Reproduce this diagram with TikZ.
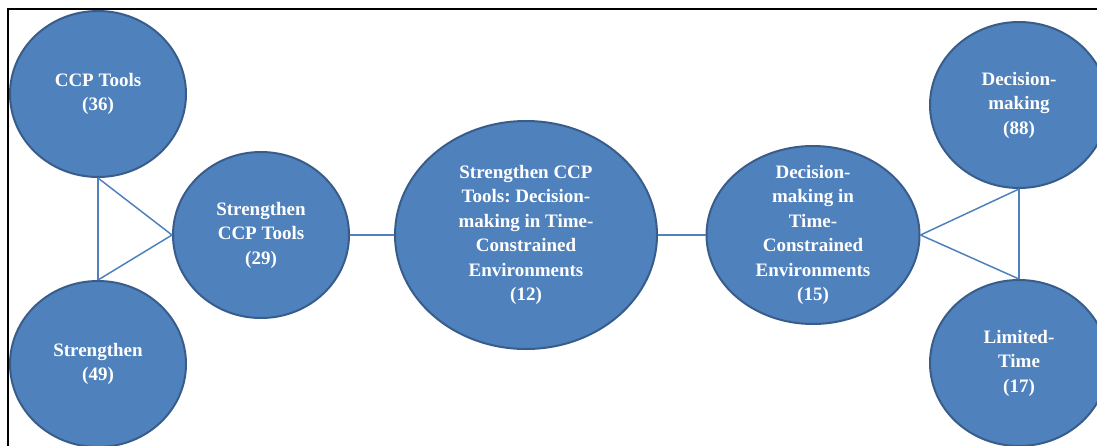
\documentclass[tikz,border=0pt]{standalone}
\usepackage{fontspec}
\setmainfont{Liberation Serif}
\usetikzlibrary{shapes.geometric}
\definecolor{nodeblue}{HTML}{4F81BD}
\definecolor{edgeblue}{HTML}{385D8A}
\frenchspacing
\tikzset{
	topic/.style={ellipse, draw=edgeblue, line width=2pt, fill=nodeblue, text=white,
		font=\bfseries\fontsize{19}{24.5}\selectfont, align=center, inner sep=0pt},
	link/.style={draw=nodeblue, line width=1.5pt}
}

\begin{document}
\begin{tikzpicture}[x=1pt,y=-1pt]
			%%%%% START %%%%%
			\useasboundingbox (0, 0) rectangle (1097, 445);
			\clip (0, 0) rectangle (1097, 445);
			
			\draw[line width=2pt] (8, 446) -- (8, 9) -- (1098, 9);
			
			\node[topic, minimum width=176, minimum height=166] (ccp) at (98, 94) {CCP Tools\\(36)};
			\node[topic, minimum width=176, minimum height=166] (str) at (98, 364) {Strengthen\\(49)};
			\node[topic, minimum width=176, minimum height=166] (strccp) at (261, 235) {Strengthen\\CCP Tools\\(29)};
			\node[topic, minimum width=262, minimum height=228] (all) at (526, 235) {Strengthen CCP\\Tools: Decision-\\making in Time-\\Constrained\\Environments\\(12)};
			\node[topic, minimum width=213, minimum height=178, inner ysep=-14pt] (dmtce) at (813, 235) {Decision-\\making in\\Time-\\Constrained\\Environments\\(15)};
			\node[topic, minimum width=178, minimum height=166] (dm) at (1019, 105) {Decision-\\making\\(88)};
			\node[topic, minimum width=178, minimum height=166] (lt) at (1019, 363) {Limited-\\Time\\(17)};
			
			\draw[link] (ccp.south) -- (str.north);
			\draw[link] (ccp.south) -- (strccp.west);
			\draw[link] (str.north) -- (strccp.west);
			\draw[link] (strccp.east) -- (all.west);
			\draw[link] (all.east) -- (dmtce.west);
			\draw[link] (dmtce.east) -- (dm.south);
			\draw[link] (dmtce.east) -- (lt.north);
			\draw[link] (dm.south) -- (lt.north);
			
			%%%%% END %%%%%
\end{tikzpicture}
\end{document}
